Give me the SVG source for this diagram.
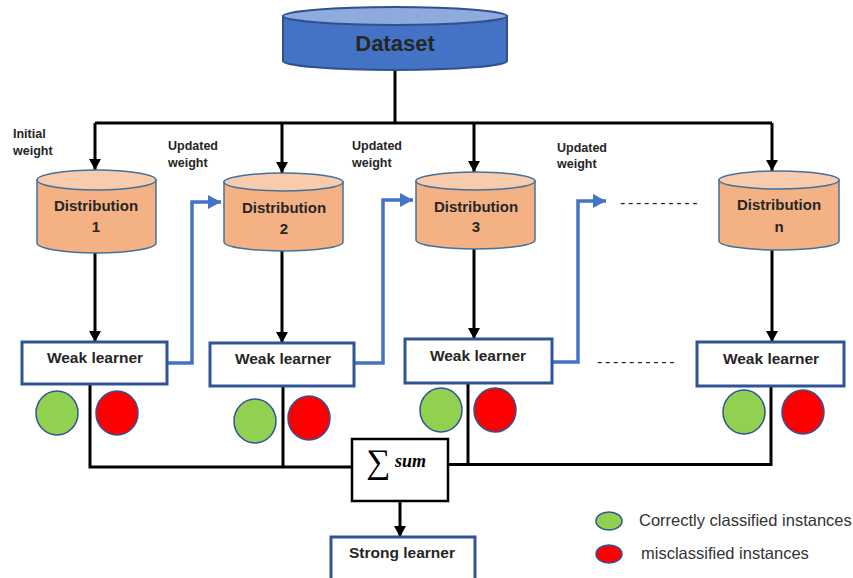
<svg xmlns="http://www.w3.org/2000/svg" width="853" height="578" viewBox="0 0 853 578">
<style>
.bg{fill:#ffffff}
.lbl{font-family:"Liberation Sans",Arial,sans-serif;font-weight:bold;fill:#262626}
.wl{font-size:15.5px;text-anchor:middle}
.ds{font-size:15px;text-anchor:middle}
.sm{font-size:12.5px}
.leg{font-family:"Liberation Sans",Arial,sans-serif;font-size:16.5px;fill:#333333}
.dash{font-family:"Liberation Sans",Arial,sans-serif;font-size:16px;fill:#262626;letter-spacing:2.7px}
.cylb{fill:#F4B183;stroke:#41719C;stroke-width:1.5}
.cylt{fill:#F8CBAD;stroke:#41719C;stroke-width:1.5}
.box{fill:#ffffff;stroke:#2F5597;stroke-width:3}
.blk{fill:none;stroke:#000000;stroke-width:3}
.blue{fill:none;stroke:#4472C4;stroke-width:3.5}
.g{fill:#92D050;stroke:#2F5597;stroke-width:1.5}
.r{fill:#FF0000;stroke:#2F5597;stroke-width:1.5}
</style>
<defs>
<marker id="ab" markerUnits="userSpaceOnUse" markerWidth="12" markerHeight="12" refX="11" refY="6" orient="auto" viewBox="0 0 12 12">
<path d="M0,0 L11,6 L0,12 z" fill="#000000"/>
</marker>
<marker id="au" markerUnits="userSpaceOnUse" markerWidth="14" markerHeight="14" refX="13" refY="7" orient="auto" viewBox="0 0 14 14">
<path d="M0,0 L13,7 L0,14 z" fill="#4472C4"/>
</marker>
</defs>
<rect class="bg" x="0" y="0" width="853" height="578"/>

<g id="connectors">
<path class="blk" d="M395,70 V123"/>
<path class="blk" d="M95,123 H772"/>
<path class="blk" d="M95,123 V170" marker-end="url(#ab)"/>
<path class="blk" d="M282,123 V173" marker-end="url(#ab)"/>
<path class="blk" d="M474,123 V172" marker-end="url(#ab)"/>
<path class="blk" d="M772,123 V171" marker-end="url(#ab)"/>
<path class="blk" d="M95,253 V342" marker-end="url(#ab)"/>
<path class="blk" d="M282,251 V343" marker-end="url(#ab)"/>
<path class="blk" d="M474,249 V339" marker-end="url(#ab)"/>
<path class="blk" d="M772,250 V342" marker-end="url(#ab)"/>
<path class="blk" d="M90,384 V467 H352"/>
<path class="blk" d="M283,386 V467"/>
<path class="blk" d="M468,383 V464.5"/>
<path class="blk" d="M771,386 V464.5 H448"/>
<path class="blk" d="M400,501 V537" marker-end="url(#ab)"/>
<path class="blue" d="M167,363 H192 V202 H221" marker-end="url(#au)"/>
<path class="blue" d="M354,363 H383 V200 H413" marker-end="url(#au)"/>
<path class="blue" d="M552,362 H578 V201 H606" marker-end="url(#au)"/>
</g>

<g id="dataset">
<path d="M283,16 V61 A112,9 0 0 0 507,61 V16 Z" fill="#4472C4" stroke="#2F528F" stroke-width="2"/>
<ellipse cx="395" cy="16" rx="112" ry="9" fill="#8FAADC" stroke="#2F528F" stroke-width="2"/>
<text class="lbl" x="395" y="51" font-size="22" text-anchor="middle">Dataset</text>
</g>

<g id="label-initial">
<text class="lbl sm" x="13" y="138">Initial</text>
<text class="lbl sm" x="13" y="155">weight</text>
</g>
<g id="label-updated1">
<text class="lbl sm" x="168" y="150">Updated</text>
<text class="lbl sm" x="168" y="167">weight</text>
</g>
<g id="label-updated2">
<text class="lbl sm" x="352" y="150">Updated</text>
<text class="lbl sm" x="352" y="167">weight</text>
</g>
<g id="label-updated3">
<text class="lbl sm" x="557" y="152">Updated</text>
<text class="lbl sm" x="557" y="168">weight</text>
</g>

<g id="dist1">
<path class="cylb" d="M37,180 V243 A59.5,10 0 0 0 156,243 V180 Z"/>
<ellipse class="cylt" cx="96.5" cy="180" rx="59.5" ry="10"/>
<text class="lbl ds" x="96" y="211">Distribution</text>
<text class="lbl ds" x="96" y="232">1</text>
</g>
<g id="dist2">
<path class="cylb" d="M224,182 V242 A59.5,9 0 0 0 343,242 V182 Z"/>
<ellipse class="cylt" cx="283.5" cy="182" rx="59.5" ry="9"/>
<text class="lbl ds" x="284" y="213">Distribution</text>
<text class="lbl ds" x="284" y="234">2</text>
</g>
<g id="dist3">
<path class="cylb" d="M416,181 V240 A59.5,9 0 0 0 535,240 V181 Z"/>
<ellipse class="cylt" cx="475.5" cy="181" rx="59.5" ry="9"/>
<text class="lbl ds" x="476" y="212">Distribution</text>
<text class="lbl ds" x="476" y="232">3</text>
</g>
<g id="distn">
<path class="cylb" d="M719,180 V241 A60,9 0 0 0 839,241 V180 Z"/>
<ellipse class="cylt" cx="779" cy="180" rx="60" ry="9"/>
<text class="lbl ds" x="779" y="210">Distribution</text>
<text class="lbl ds" x="779" y="232">n</text>
</g>

<g id="dots-top"><text class="dash" x="620" y="208">----------</text></g>
<g id="dots-bottom"><text class="dash" x="597" y="367">----------</text></g>

<g id="weak1">
<rect class="box" x="22" y="342" width="145" height="42"/>
<text class="lbl wl" x="95" y="363">Weak learner</text>
</g>
<g id="weak2">
<rect class="box" x="210" y="343" width="144" height="43"/>
<text class="lbl wl" x="283" y="364">Weak learner</text>
</g>
<g id="weak3">
<rect class="box" x="405" y="339" width="147" height="44"/>
<text class="lbl wl" x="478" y="361">Weak learner</text>
</g>
<g id="weakn">
<rect class="box" x="697" y="342" width="147" height="44"/>
<text class="lbl wl" x="771" y="364">Weak learner</text>
</g>

<g id="result1">
<ellipse class="g" cx="57" cy="413" rx="21" ry="22"/>
<ellipse class="r" cx="117" cy="413" rx="21" ry="22"/>
</g>
<g id="result2">
<ellipse class="g" cx="255" cy="421" rx="21" ry="22"/>
<ellipse class="r" cx="309" cy="418" rx="21" ry="22"/>
</g>
<g id="result3">
<ellipse class="g" cx="441" cy="410" rx="21" ry="22"/>
<ellipse class="r" cx="495" cy="410" rx="21" ry="22"/>
</g>
<g id="resultn">
<ellipse class="g" cx="744" cy="412" rx="21" ry="22"/>
<ellipse class="r" cx="803" cy="412" rx="21" ry="22"/>
</g>

<g id="sum">
<rect x="352" y="439" width="96" height="62" fill="#ffffff" stroke="#000000" stroke-width="2.5"/>
<text x="366" y="473" font-family="'Liberation Serif','DejaVu Serif',serif" font-size="34" fill="#000000">∑</text>
<text x="395" y="467" font-family="'Liberation Serif','DejaVu Serif',serif" font-size="18" font-style="italic" font-weight="bold" fill="#000000">sum</text>
</g>

<g id="strong">
<rect class="box" x="331" y="537" width="144" height="46"/>
<text class="lbl wl" x="402" y="558">Strong learner</text>
</g>

<g id="legend">
<ellipse class="g" cx="609" cy="521" rx="13" ry="9"/>
<text class="leg" x="639" y="526">Correctly classified instances</text>
<ellipse class="r" cx="609" cy="554" rx="13" ry="9"/>
<text class="leg" x="641" y="559">misclassified instances</text>
</g>
</svg>
